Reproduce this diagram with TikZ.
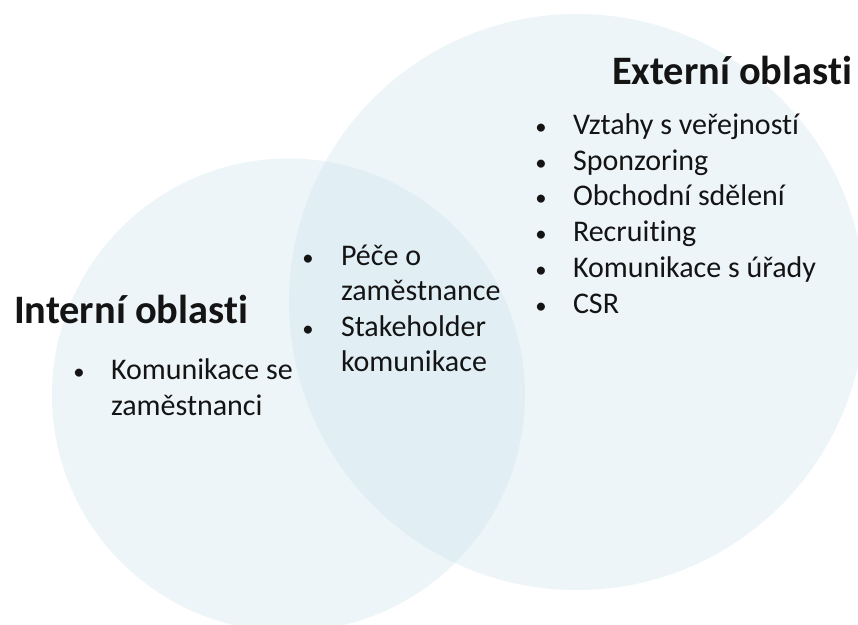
\documentclass[tikz,border=0pt]{standalone}
\usepackage{fontspec}
\setmainfont[Ligatures=NoCommon]{Carlito}
\definecolor{vennfill}{RGB}{205,228,240}
\definecolor{ink}{RGB}{20,20,20}
\begin{document}
\begin{tikzpicture}[x=0.75pt,y=-0.75pt,
  every node/.style={inner sep=0pt, outer sep=0pt, text=ink},
  vennset/.style={fill=vennfill, fill opacity=0.35},
  itemtext/.style={anchor=base west, font=\fontsize{22.5pt}{27pt}\selectfont},
  bulletmark/.style={anchor=base, font=\fontsize{17pt}{20pt}\selectfont},
  titletext/.style={anchor=base west, font=\fontsize{30.3pt}{36pt}\selectfont\bfseries}]
\useasboundingbox (0,0) rectangle (858,625);
\fill[white] (0,0) rectangle (858,625);
\fill[vennset] (288.5,395) circle[radius=236.5];
\fill[vennset] (577,302) circle[radius=288];
% titles
\node[titletext] (ext) at (612,84) {Externí oblasti};
\node[titletext] (int) at (14,323) {Interní oblasti};
% external list
\foreach \t [count=\i] in {Vztahy s veřejností,Sponzoring,Obchodní sdělení,Recruiting,Komunikace s úřady,CSR}{
  \pgfmathsetmacro{\yy}{134.5+35.7*(\i-1)}
  \node[bulletmark] (eb\i) at (541,\yy) {•};
  \node[itemtext] (et\i) at (573,\yy) {\t};
}
% middle list
\node[bulletmark] (mb1) at (308,265) {•};
\node[itemtext] (mt1) at (341,265) {Péče o};
\node[itemtext] (mt2) at (341,300.5) {zaměstnance};
\node[bulletmark] (mb2) at (308,336) {•};
\node[itemtext] (mt3) at (341,336) {Stakeholder};
\node[itemtext] (mt4) at (341,371) {komunikace};
% internal list
\node[bulletmark] (ib1) at (79,379) {•};
\node[itemtext] (it1) at (111,379) {Komunikace se};
\node[itemtext] (it2) at (111,415) {zaměstnanci};
\end{tikzpicture}
\end{document}
